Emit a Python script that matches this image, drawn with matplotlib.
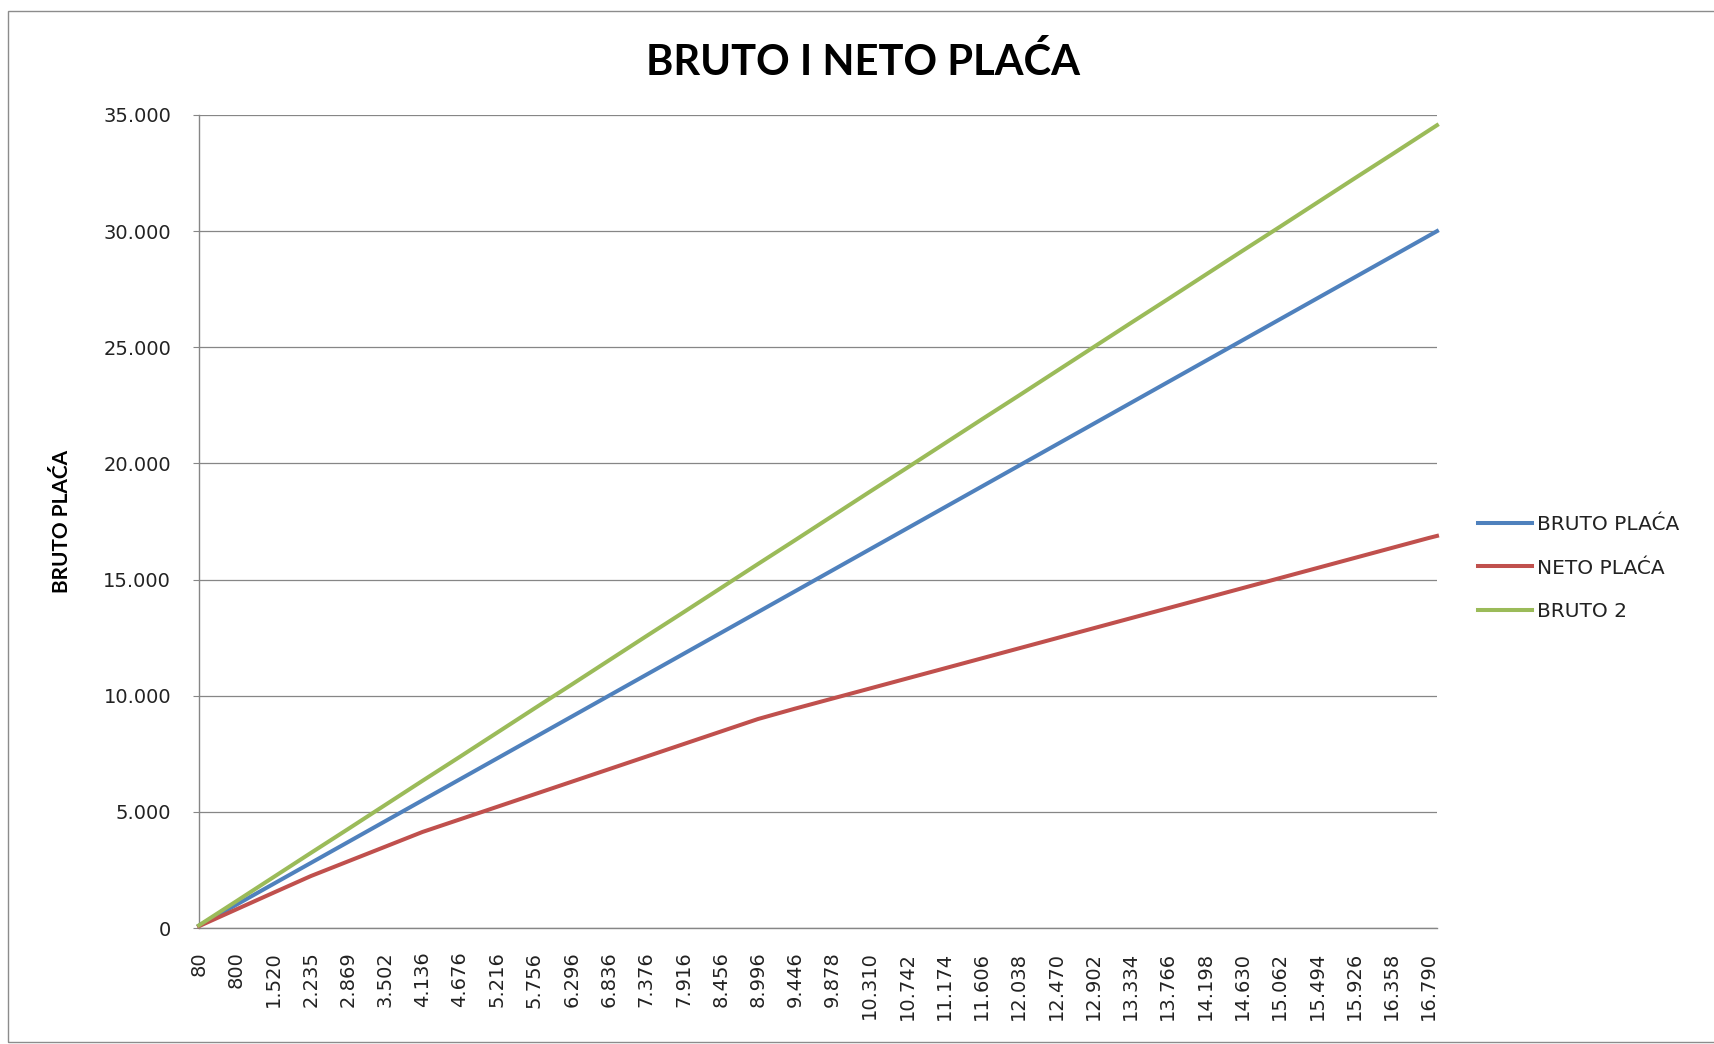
import matplotlib
matplotlib.use('Agg')
import matplotlib.pyplot as plt
from matplotlib.patches import Rectangle
from matplotlib.ticker import FuncFormatter

# bruto placa per row (every 9th row of the sheet is labelled, last row is the axis end)
bruto = [100, 1000, 1900, 2800, 3700, 4600, 5500, 6400, 7300, 8200, 9100, 10000,
         10900, 11800, 12700, 13600, 14500, 15400, 16300, 17200, 18100, 19000,
         19900, 20800, 21700, 22600, 23500, 24400, 25300, 26200, 27100, 28000,
         28900, 29800, 30000]
neto = [80, 800, 1520, 2235, 2869, 3502, 4136, 4676, 5216, 5756, 6296, 6836,
        7376, 7916, 8456, 8996, 9446, 9878, 10310, 10742, 11174, 11606, 12038,
        12470, 12902, 13334, 13766, 14198, 14630, 15062, 15494, 15926, 16358,
        16790, 16880]
bruto2 = [115, 1150, 2190, 3230, 4260, 5300, 6340, 7370, 8410, 9450, 10480,
          11520, 12560, 13590, 14630, 15670, 16700, 17740, 18780, 19810, 20850,
          21890, 22920, 23960, 25000, 26040, 27070, 28110, 29150, 30180, 31220,
          32260, 33290, 34330, 34560]
n_labels = 34

W, H = 1715, 1044
fig = plt.figure(figsize=(W / 100, H / 100), dpi=100)
fig.patch.set_facecolor('white')
fig.patches.append(Rectangle((8 / W, 2 / H), 1.0, 1 - 13 / H, transform=fig.transFigure,
                             fill=False, edgecolor='#8c8c8c', linewidth=1.0))

ax = fig.add_axes([199 / W, 1 - 928 / H, (1437 - 199) / W, (928 - 115) / H])

ax.plot(bruto, bruto, color='#4F81BD', lw=2.9, label='BRUTO PLAĆA', clip_on=False, zorder=3)
ax.plot(bruto, neto, color='#C0504D', lw=2.9, label='NETO PLAĆA', clip_on=False, zorder=3)
ax.plot(bruto, bruto2, color='#9BBB59', lw=2.9, label='BRUTO 2', clip_on=False, zorder=3)

ax.set_xlim(bruto[0], bruto[-1])
ax.set_ylim(0, 35000)
ax.set_yticks(range(0, 35001, 5000))
ax.yaxis.set_major_formatter(FuncFormatter(lambda v, p: f"{int(v):,}".replace(',', '.')))
ax.set_xticks(bruto[:n_labels])
ax.set_xticklabels([f"{v:,}".replace(',', '.') for v in neto[:n_labels]], rotation=90)

ax.grid(axis='y', color='#868686', lw=0.9)
ax.set_axisbelow(True)
for s in ['top', 'right']:
    ax.spines[s].set_visible(False)
for s in ['left', 'bottom']:
    ax.spines[s].set_color('#868686')
    ax.spines[s].set_linewidth(1.0)

ax.tick_params(axis='y', length=4, color='#868686', pad=16, labelsize=14, labelcolor='#222222')
ax.tick_params(axis='x', length=0, pad=17, labelsize=14, labelcolor='#222222')

fig.text(863 / W, 1 - 62 / H, 'BRUTO I NETO PLAĆA', ha='center', va='center',
         fontsize=30, fontweight='bold', family='Lato', color='black')
fig.text(62 / W, 1 - 521 / H, 'BRUTO PLAĆA', ha='center', va='center', rotation=90,
         fontsize=15, fontweight='bold', family='Lato', color='black')

ax.legend(loc='center left', bbox_to_anchor=(1478 / W, 1 - 568 / H),
          bbox_transform=fig.transFigure, frameon=False, fontsize=14.5,
          handlelength=2.7, handletextpad=0.25, labelspacing=1.2,
          borderpad=0, borderaxespad=0, labelcolor='#222222')

fig.savefig('out.png', dpi=100)
